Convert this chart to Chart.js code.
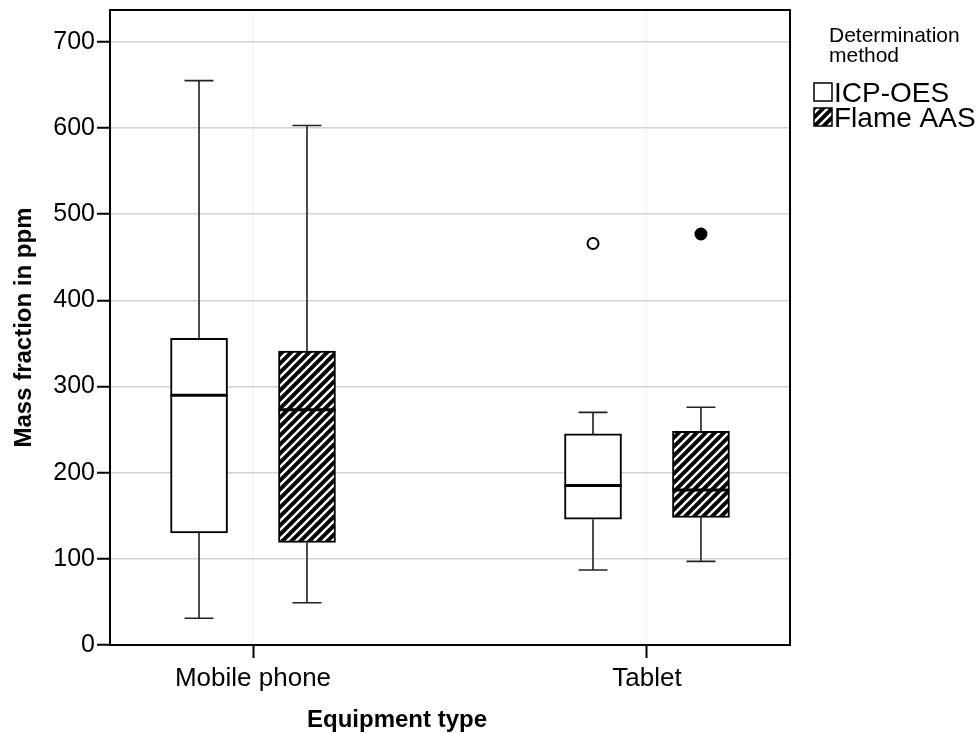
<!DOCTYPE html>
<html>
<head>
<meta charset="utf-8">
<script src="https://cdn.jsdelivr.net/npm/chart.js@4.4.1/dist/chart.umd.min.js"></script>
<style>
  html, body { margin: 0; padding: 0; background: #ffffff; }
  #wrap { width: 979px; height: 733px; }
</style>
</head>
<body>
<div id="wrap"><canvas id="c" width="979" height="733"></canvas></div>
<script>
// ---------------- data ----------------
const categories = ['Mobile phone', 'Tablet'];
const seriesNames = ['ICP-OES', 'Flame AAS'];
const legendTitle = ['Determination', 'method'];
const xTitle = 'Equipment type';
const yTitle = 'Mass fraction in ppm';
const yTickValues = [0, 100, 200, 300, 400, 500, 600, 700];

const icpWhiskerLow  = [31, 87];
const icpQ1          = [130, 146];
const icpMedian      = [290, 185];
const icpQ3          = [356, 245];
const icpWhiskerHigh = [655, 270];
const icpOutliers    = [[], [466]];

const aasWhiskerLow  = [49, 97];
const aasQ1          = [119, 148];
const aasMedian      = [273, 180];
const aasQ3          = [341, 248];
const aasWhiskerHigh = [603, 276];
const aasOutliers    = [[], [477]];

// ---------------- styles ----------------
const FONT = "'Liberation Sans', Arial, Helvetica, sans-serif";
const GROUP_OFFSET = 0.137;      // x-axis units from category centre
const BOX_PX = 57;
const CAP_HALF_PX = 14.5;

function makeHatch() {
  const s = 9;
  const c = document.createElement('canvas');
  c.width = s; c.height = s;
  const g = c.getContext('2d');
  g.fillStyle = '#000'; g.fillRect(0, 0, s, s);
  g.strokeStyle = '#fff'; g.lineWidth = 2.4; g.lineCap = 'square';
  g.beginPath();
  g.moveTo(-2, s + 2); g.lineTo(s + 2, -2);
  g.moveTo(-2, 2); g.lineTo(2, -2);
  g.moveTo(s - 2, s + 2); g.lineTo(s + 2, s - 2);
  g.stroke();
  return g.createPattern(c, 'repeat');
}
const hatch = makeHatch();

const series = [
  { name: seriesNames[0], low: icpWhiskerLow, q1: icpQ1, med: icpMedian, q3: icpQ3, high: icpWhiskerHigh, out: icpOutliers, fill: '#ffffff', off: -GROUP_OFFSET, outFill: '#ffffff' },
  { name: seriesNames[1], low: aasWhiskerLow, q1: aasQ1, med: aasMedian, q3: aasQ3, high: aasWhiskerHigh, out: aasOutliers, fill: hatch, off: GROUP_OFFSET, outFill: '#000000' }
];

const boxDatasets = series.map(s => ({
  type: 'bar',
  label: s.name,
  data: categories.map((c, i) => ({ x: i + s.off, y: [s.q1[i], s.q3[i]] })),
  backgroundColor: s.fill,
  borderColor: '#000',
  borderWidth: 2,
  borderSkipped: false,
  barThickness: BOX_PX,
  grouped: false,
  order: 2
}));
const outlierDatasets = series.map(s => {
  const pts = [];
  s.out.forEach((vals, i) => vals.forEach(v => pts.push({ x: i + s.off, y: v })));
  return {
    type: 'scatter',
    label: s.name + ' outliers',
    data: pts,
    pointRadius: 5.5,
    pointBorderWidth: 2,
    pointBackgroundColor: s.outFill,
    pointBorderColor: '#000',
    order: 1
  };
});

const boxPlugin = {
  id: 'boxStats',
  beforeDatasetsDraw(chart) {
    const ctx = chart.ctx, y = chart.scales.y;
    ctx.save();
    ctx.strokeStyle = '#222';
    ctx.lineWidth = 1.6;
    series.forEach((s, d) => {
      const meta = chart.getDatasetMeta(d);
      meta.data.forEach((el, i) => {
        const x = el.x;
        const yh = y.getPixelForValue(s.high[i]), y3 = y.getPixelForValue(s.q3[i]);
        const yl = y.getPixelForValue(s.low[i]),  y1 = y.getPixelForValue(s.q1[i]);
        ctx.beginPath();
        ctx.moveTo(x, yh); ctx.lineTo(x, y3);
        ctx.moveTo(x, y1); ctx.lineTo(x, yl);
        ctx.moveTo(x - CAP_HALF_PX, yh); ctx.lineTo(x + CAP_HALF_PX, yh);
        ctx.moveTo(x - CAP_HALF_PX, yl); ctx.lineTo(x + CAP_HALF_PX, yl);
        ctx.stroke();
      });
    });
    ctx.restore();
  },
  afterDatasetsDraw(chart) {
    const ctx = chart.ctx, y = chart.scales.y;
    ctx.save();
    ctx.strokeStyle = '#000';
    ctx.lineWidth = 3;
    series.forEach((s, d) => {
      const meta = chart.getDatasetMeta(d);
      meta.data.forEach((el, i) => {
        const ym = y.getPixelForValue(s.med[i]);
        ctx.beginPath();
        ctx.moveTo(el.x - el.width / 2, ym); ctx.lineTo(el.x + el.width / 2, ym);
        ctx.stroke();
      });
    });
    ctx.restore();
  },
  afterDraw(chart) {
    const ctx = chart.ctx, a = chart.chartArea;
    ctx.save();
    // frame
    ctx.strokeStyle = '#000'; ctx.lineWidth = 2;
    ctx.strokeRect(a.left, a.top, a.right - a.left, a.bottom - a.top);
    // x title
    ctx.fillStyle = '#000';
    ctx.font = 'bold 24px ' + FONT;
    ctx.textAlign = 'center'; ctx.textBaseline = 'alphabetic';
    ctx.fillText(xTitle, 397, 727);
    // legend
    ctx.textAlign = 'left';
    ctx.font = '21px ' + FONT;
    ctx.fillText(legendTitle[0], 829, 42);
    ctx.fillText(legendTitle[1], 829, 62);
    ctx.font = '28px ' + FONT;
    series.forEach((s, k) => {
      const top = 83 + k * 25;
      ctx.fillStyle = s.fill;
      ctx.fillRect(814, top, 18, 18);
      ctx.strokeStyle = '#000'; ctx.lineWidth = 1.5;
      ctx.strokeRect(814, top, 18, 18);
      ctx.fillStyle = '#000';
      ctx.fillText(s.name, 834, top + 18.5);
    });
    ctx.restore();
  }
};

Chart.defaults.font.family = FONT;
Chart.defaults.color = '#000';

new Chart(document.getElementById('c'), {
  type: 'bar',
  data: { datasets: [...boxDatasets, ...outlierDatasets] },
  options: {
    responsive: false,
    animation: false,
    devicePixelRatio: 1,
    layout: { padding: { left: 0, right: 189, top: 10, bottom: 0 } },
    plugins: { legend: { display: false }, tooltip: { enabled: false } },
    scales: {
      x: {
        type: 'linear',
        offset: false,
        min: -0.363,
        max: 1.363,
        afterBuildTicks: s => { s.ticks = categories.map((c, i) => ({ value: i })); },
        afterFit: s => { s.height = 88; s.paddingLeft = 0; s.paddingRight = 0; },
        ticks: { callback: v => categories[v], font: { size: 26 }, color: '#000', padding: 5, maxRotation: 0, autoSkip: false },
        grid: { offset: false, color: '#f2f2f2', lineWidth: 1, tickColor: '#000', tickWidth: 2, tickLength: 13 },
        border: { color: '#000', width: 2 }
      },
      y: {
        type: 'linear',
        min: 0,
        max: 737,
        afterBuildTicks: s => { s.ticks = yTickValues.map(v => ({ value: v })); },
        afterFit: s => { s.width = 110; s.paddingTop = 0; s.paddingBottom = 0; },
        ticks: { font: { size: 25 }, color: '#000', padding: 2 },
        grid: { color: '#d2d2d2', lineWidth: 1.5, tickColor: '#000', tickWidth: 2, tickLength: 13 },
        border: { color: '#000', width: 2 },
        title: { display: true, text: yTitle, font: { size: 24, weight: 'bold' }, color: '#000', padding: { top: 10, bottom: 0 } }
      }
    }
  },
  plugins: [boxPlugin]
});
</script>
</body>
</html>
